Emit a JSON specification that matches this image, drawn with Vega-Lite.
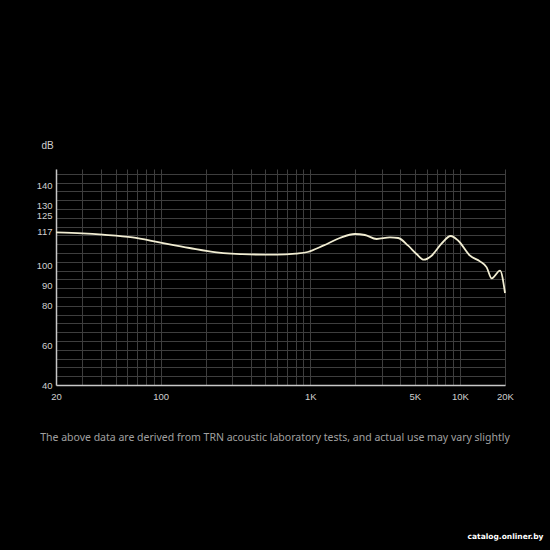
{
  "$schema": "https://vega.github.io/schema/vega-lite/v6.json",
  "autosize": "none",
  "width": 449,
  "height": 216,
  "padding": {"left": 56, "top": 169, "right": 45, "bottom": 165},
  "background": "#000000",
  "title": {
    "text": "catalog.onliner.by",
    "orient": "bottom",
    "anchor": "end",
    "offset": 90,
    "dx": 30,
    "font": "DejaVu Sans",
    "fontSize": 7.5,
    "fontWeight": "bold",
    "color": "#ffffff"
  },
  "data": {
    "values": [
      {"freq": 20, "db": 116.3},
      {"freq": 30, "db": 115.8},
      {"freq": 41, "db": 115.15},
      {"freq": 65, "db": 113.8},
      {"freq": 98, "db": 111.3},
      {"freq": 156, "db": 108.5},
      {"freq": 236, "db": 106.3},
      {"freq": 394, "db": 105.3},
      {"freq": 594, "db": 105.15},
      {"freq": 800, "db": 105.7},
      {"freq": 960, "db": 106.5},
      {"freq": 1219, "db": 109.65},
      {"freq": 1575, "db": 113.5},
      {"freq": 1986, "db": 115.5},
      {"freq": 2317, "db": 115.0},
      {"freq": 2775, "db": 113.0},
      {"freq": 3405, "db": 113.8},
      {"freq": 3867, "db": 113.5},
      {"freq": 4511, "db": 109.65},
      {"freq": 5130, "db": 105.5},
      {"freq": 5741, "db": 102.65},
      {"freq": 6465, "db": 104.65},
      {"freq": 7550, "db": 110.8},
      {"freq": 8670, "db": 114.5},
      {"freq": 9750, "db": 112.15},
      {"freq": 11680, "db": 104.65},
      {"freq": 13610, "db": 101.8},
      {"freq": 15090, "db": 98.8},
      {"freq": 16300, "db": 93.3},
      {"freq": 18530, "db": 97.15},
      {"freq": 20000, "db": 86.0}
    ]
  },
  "mark": {"type": "line", "interpolate": "monotone", "color": "#f1edd2", "strokeWidth": 1.8},
  "encoding": {
    "x": {
      "field": "freq",
      "type": "quantitative",
      "scale": {"type": "log", "domain": [20, 20000], "nice": false},
      "axis": {
        "values": [20, 30, 40, 50, 60, 70, 80, 90, 100, 200, 300, 400, 500, 600, 700, 800, 900, 1000, 2000, 3000, 4000, 5000, 6000, 7000, 8000, 9000, 10000, 20000],
        "labelExpr": "datum.value == 20 ? '20' : datum.value == 100 ? '100' : datum.value == 1000 ? '1K' : datum.value == 5000 ? '5K' : datum.value == 10000 ? '10K' : datum.value == 20000 ? '20K' : ''",
        "labelOverlap": false,
        "labelFlush": false,
        "labelPadding": 6,
        "title": "The above data are derived from TRN acoustic laboratory tests, and actual use may vary slightly",
        "titleX": 218.5,
        "titleFont": "Noto Sans",
        "titleFontWeight": "normal",
        "titleFontSize": 10.5,
        "titleColor": "#a0a0a0",
        "titlePadding": 32
      }
    },
    "y": {
      "field": "db",
      "type": "quantitative",
      "scale": {"domain": [40, 148], "nice": false, "zero": false},
      "axis": {
        "values": [40, 44.4, 48.8, 53.2, 57.6, 60, 62, 66.4, 70.8, 75.2, 79.6, 80, 84, 88.4, 90, 92.8, 97.2, 100, 101.6, 106, 110.4, 114.8, 117, 119.2, 123.6, 125, 128, 130, 132.4, 136.8, 140, 141.2, 145.6],
        "labelExpr": "indexof([40, 60, 80, 90, 100, 117, 125, 130, 140], datum.value) >= 0 ? datum.label : ''",
        "gridOpacity": {"condition": {"test": "indexof([60, 80, 90, 100, 117, 125, 130, 140], datum.value) >= 0", "value": 0}, "value": 1},
        "labelOverlap": false,
        "labelFlush": false,
        "labelPadding": 4,
        "title": "dB",
        "titleAngle": 0,
        "titleX": -9,
        "titleY": -24,
        "titleAlign": "center",
        "titleBaseline": "middle",
        "titleFont": "Liberation Sans",
        "titleFontWeight": "normal",
        "titleFontSize": 10,
        "titleColor": "#d0d0d0"
      }
    }
  },
  "config": {
    "view": {"stroke": null},
    "axis": {
      "grid": true,
      "gridColor": "#3e3e3e",
      "gridWidth": 1,
      "domainColor": "#c8c8c8",
      "domainWidth": 1.5,
      "ticks": false,
      "labelFont": "Liberation Sans",
      "labelFontSize": 9.5,
      "labelColor": "#cfcfcf"
    }
  }
}
